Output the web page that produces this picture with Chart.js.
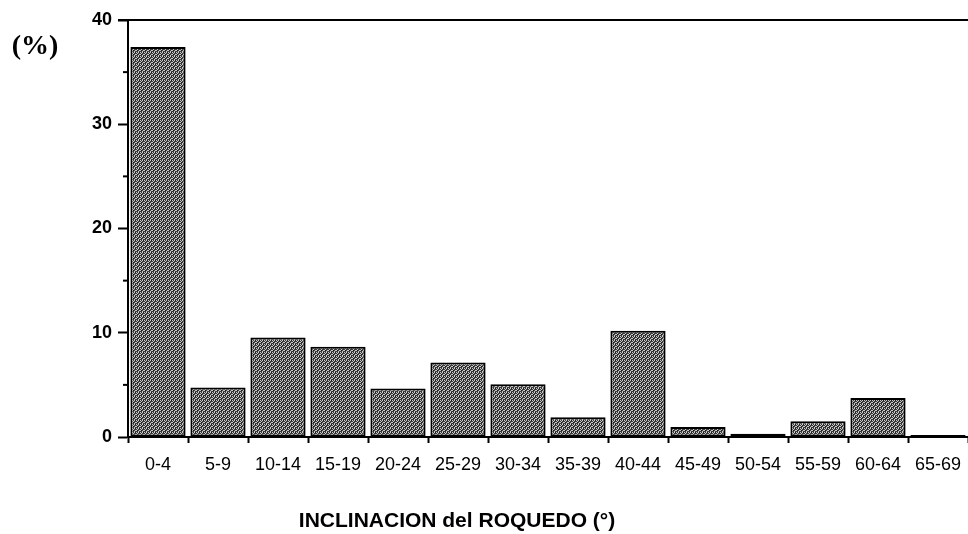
<!DOCTYPE html>
<html>
<head>
<meta charset="utf-8">
<script src="https://cdn.jsdelivr.net/npm/chart.js@4.4.1/dist/chart.umd.min.js"></script>
<style>
  html, body { margin: 0; padding: 0; background: #fff; }
  #wrap { width: 968px; height: 534px; }
</style>
</head>
<body>
<div id="wrap"><canvas id="chart" width="968" height="534"></canvas></div>
<script>
// data
var classes = ['0-4', '5-9', '10-14', '15-19', '20-24', '25-29', '30-34',
               '35-39', '40-44', '45-49', '50-54', '55-59', '60-64', '65-69'];
var percent = [37.4, 4.75, 9.55, 8.65, 4.65, 7.15, 5.05,
               1.9, 10.2, 0.95, 0.3, 1.5, 3.75, 0.2];
var yTicks = [0, 10, 20, 30, 40];
var yMinorTicks = [5, 15, 25, 35];

// stippled grey fill like the printed bars
function makePattern() {
  var c = document.createElement('canvas');
  c.width = 4; c.height = 4;
  var g = c.getContext('2d');
  g.fillStyle = '#3c3c3c';
  g.fillRect(0, 0, 4, 4);
  g.fillStyle = '#c8c8c8';
  [[0,0],[2,0],[1,1],[3,2],[0,2],[2,3]].forEach(function(p) { g.fillRect(p[0], p[1], 1, 1); });
  g.fillStyle = '#1a1a1a';
  g.fillRect(3, 0, 1, 1);
  g.fillRect(1, 2, 1, 1);
  return g.createPattern(c, 'repeat');
}

var extras = {
  id: 'extras',
  afterDraw: function(chart) {
    var ctx = chart.ctx;
    var area = chart.chartArea;
    var y = chart.scales.y;
    ctx.save();
    ctx.strokeStyle = '#000';
    ctx.lineWidth = 2;
    // top frame line
    ctx.beginPath();
    ctx.moveTo(area.left - 10, area.top);
    ctx.lineTo(chart.width, area.top);
    ctx.stroke();
    // short minor ticks
    yMinorTicks.forEach(function(v) {
      var py = y.getPixelForValue(v);
      ctx.beginPath();
      ctx.moveTo(area.left - 5, py);
      ctx.lineTo(area.left, py);
      ctx.stroke();
    });
    ctx.fillStyle = '#000';
    ctx.textAlign = 'center';
    ctx.textBaseline = 'middle';
    ctx.font = 'bold 28px "Liberation Serif", serif';
    ctx.fillText('(%)', 35, 47);
    ctx.font = 'bold 21px "Liberation Sans", Arial, sans-serif';
    ctx.fillText('INCLINACION del ROQUEDO (\u00B0)', 457, 521);
    ctx.restore();
  }
};

var chart = new Chart('chart', {
  type: 'bar',
  data: {
    labels: classes,
    datasets: [{
      data: percent,
      backgroundColor: makePattern(),
      borderColor: '#000',
      borderWidth: 2,
      borderSkipped: false,
      barPercentage: 0.92,
      categoryPercentage: 1.0
    }]
  },
  options: {
    responsive: false,
    animation: false,
    layout: { padding: { top: 20, right: 0, left: 0, bottom: 0 } },
    plugins: {
      legend: { display: false },
      tooltip: { enabled: false }
    },
    scales: {
      x: {
        offset: true,
        afterFit: function(s) { s.height = 97; s.paddingRight = 0; },
        border: { display: true, color: '#000', width: 2 },
        grid: { drawOnChartArea: false, offset: true, tickLength: 6, tickColor: '#000', tickWidth: 2 },
        ticks: {
          color: '#000',
          padding: 11,
          maxRotation: 0,
          autoSkip: false,
          font: { family: '"Liberation Sans", Arial, sans-serif', size: 18 }
        }
      },
      y: {
        min: 0,
        max: 40,
        afterFit: function(s) { s.width = 128; },
        afterBuildTicks: function(s) { s.ticks = yTicks.map(function(v) { return { value: v }; }); },
        border: { display: true, color: '#000', width: 2 },
        grid: { drawOnChartArea: false, tickLength: 10, tickColor: '#000', tickWidth: 2 },
        ticks: {
          color: '#000',
          padding: 6,
          font: { family: '"Liberation Sans", Arial, sans-serif', size: 18, weight: 'bold' }
        }
      }
    }
  },
  plugins: [extras]
});
</script>
</body>
</html>
